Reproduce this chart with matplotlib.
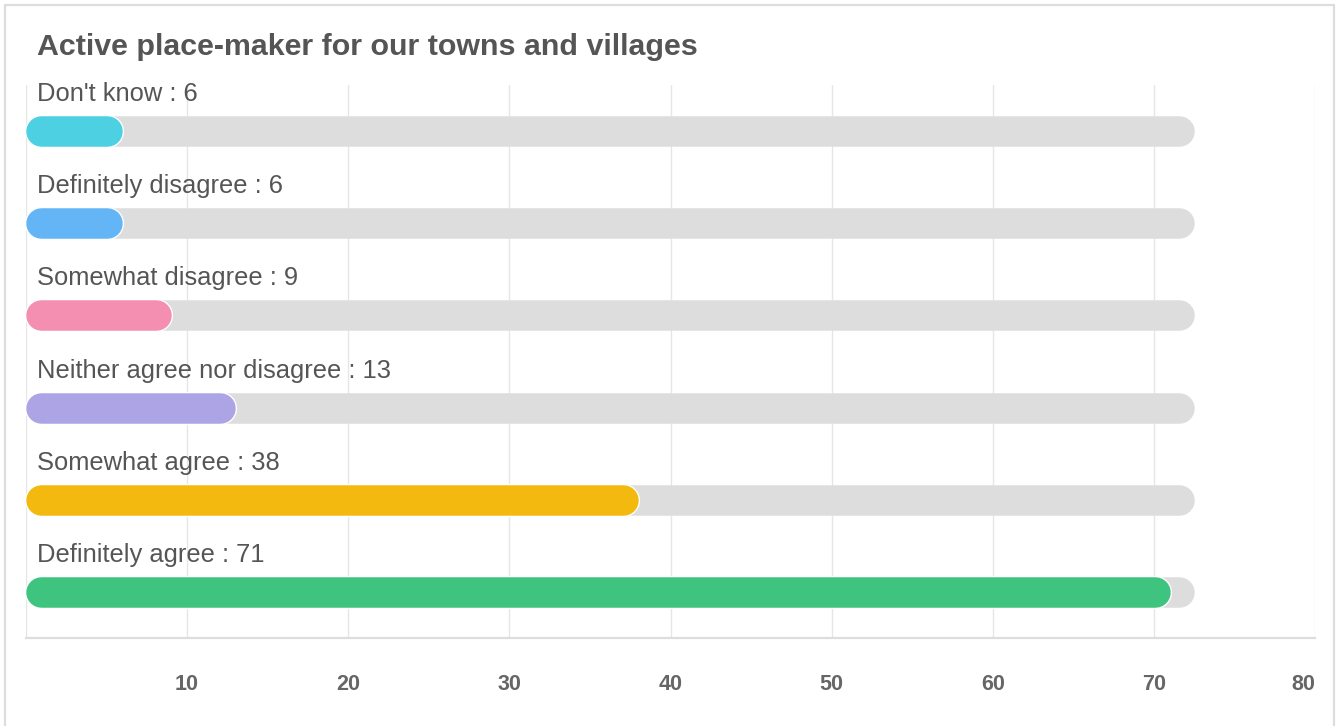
import matplotlib
matplotlib.use('Agg')
import matplotlib.pyplot as plt
import matplotlib.patheffects as pe
from matplotlib.patches import Rectangle

plt.rcParams['font.family'] = ['Liberation Sans', 'DejaVu Sans']

# data (top to bottom)
categories = ['Don\'t know', 'Definitely disagree', 'Somewhat disagree',
              'Neither agree nor disagree', 'Somewhat agree', 'Definitely agree']
values = [6, 6, 9, 13, 38, 71]
colors = ['#4dd0e1', '#64b5f6', '#f48fb1', '#ada4e6', '#f4b90f', '#3ec47f']
track_max = 72.5
x_ticks = [10, 20, 30, 40, 50, 60, 70, 80]
title = 'Active place-maker for our towns and villages'

W, H, DPI = 1340, 726, 100
fig = plt.figure(figsize=(W / DPI, H / DPI), dpi=DPI)
fig.patch.set_facecolor('white')

# card border
fig.add_artist(Rectangle((5 / W, -0.05), 1329 / W, 1.05 - 5 / H, transform=fig.transFigure,
                         fill=False, edgecolor='#dddddd', linewidth=1.6))

ax_l, ax_r, ax_t, ax_b = 26, 1315, 85, 638
ax = fig.add_axes([ax_l / W, 1 - ax_b / H, (ax_r - ax_l) / W, (ax_b - ax_t) / H])
ax.set_xlim(0, 80)
ax.set_ylim(len(categories) - 0.5, -0.5)
for s in ['top', 'right', 'left']:
    ax.spines[s].set_visible(False)
ax.spines['bottom'].set_color('#dddddd')
ax.spines['bottom'].set_linewidth(1.6)

for t in [0] + x_ticks:
    ax.axvline(t, color='#e6e6e6', linewidth=1.0, zorder=0)

bar_px = 30.5
bar_lw = bar_px * 72 / DPI
r = (bar_px / 2) / ((ax_r - ax_l) / 80)

for i, (cat, v, c) in enumerate(zip(categories, values, colors)):
    ax.plot([r, track_max - r], [i, i], color='#dddddd', linewidth=bar_lw,
            solid_capstyle='round', zorder=2)
    ax.plot([r, v - r], [i, i], color=c, linewidth=bar_lw, solid_capstyle='round', zorder=3,
            path_effects=[pe.Stroke(linewidth=bar_lw + 2.0, foreground='white'), pe.Normal()])
    ax.annotate(f'{cat} : {v}', xy=(0, i), xytext=(11 * 0.72, 37 * 0.72),
                textcoords='offset points', ha='left', va='center',
                fontsize=18.4, color='#555555', zorder=4)

ax.set_xticks(x_ticks)
ax.set_xticklabels([str(t) for t in x_ticks], fontsize=15.5, fontweight='bold', color='#666666')
ax.get_xticklabels()[-1].set_horizontalalignment('right')
ax.tick_params(axis='x', length=0, pad=26)
ax.set_yticks([])

fig.text(37 / W, 1 - 55 / H, title, fontsize=21.9, fontweight='bold', color='#555555',
         ha='left', va='baseline')

fig.savefig('out.png', dpi=DPI, facecolor='white')
